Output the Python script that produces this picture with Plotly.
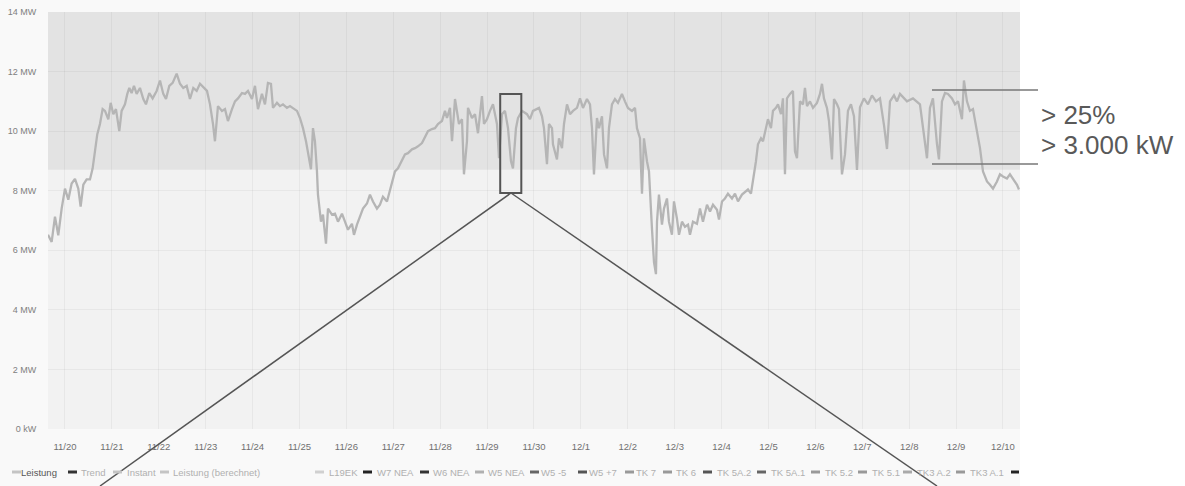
import pandas as pd
import plotly.graph_objects as go

# ---------------- data ----------------
# time position in days after 11/20 00:00, and power in MW
t_days = [
    -0.362, -0.284, -0.213, -0.143, -0.071, 0.000, 0.071, 0.142, 0.213, 0.284,
    0.334, 0.391, 0.462, 0.533, 0.590, 0.640, 0.689, 0.746, 0.803, 0.853,
    0.924, 0.974, 1.031, 1.087, 1.158, 1.208, 1.279, 1.329, 1.372, 1.421,
    1.471, 1.528, 1.599, 1.670, 1.727, 1.798, 1.869, 1.954, 2.026, 2.096,
    2.154, 2.224, 2.296, 2.381, 2.452, 2.522, 2.595, 2.665, 2.736, 2.808,
    2.878, 3.028, 3.092, 3.156, 3.198, 3.262, 3.348, 3.412, 3.475, 3.561,
    3.625, 3.689, 3.774, 3.838, 3.902, 3.987, 4.051, 4.115, 4.200, 4.264,
    4.328, 4.392, 4.435, 4.520, 4.584, 4.648, 4.733, 4.797, 4.861, 4.947,
    5.011, 5.075, 5.139, 5.181, 5.245, 5.288, 5.330, 5.373, 5.394, 5.458,
    5.501, 5.565, 5.608, 5.693, 5.757, 5.821, 5.906, 5.970, 6.034, 6.119,
    6.162, 6.226, 6.290, 6.354, 6.439, 6.503, 6.567, 6.652, 6.716, 6.780,
    6.866, 6.908, 6.972, 7.036, 7.100, 7.186, 7.249, 7.313, 7.399, 7.463,
    7.527, 7.612, 7.676, 7.740, 7.825, 7.889, 7.953, 8.038, 8.102, 8.145,
    8.209, 8.252, 8.316, 8.358, 8.401, 8.465, 8.507, 8.571, 8.593, 8.678,
    8.742, 8.806, 8.891, 8.934, 8.998, 9.062, 9.126, 9.211, 9.254, 9.318,
    9.382, 9.446, 9.510, 9.552, 9.616, 9.659, 9.744, 9.851, 9.915, 9.979,
    10.064, 10.107, 10.171, 10.213, 10.277, 10.320, 10.384, 10.405, 10.490, 10.533,
    10.597, 10.640, 10.704, 10.768, 10.832, 10.917, 10.981, 11.045, 11.130, 11.194,
    11.237, 11.279, 11.343, 11.386, 11.450, 11.493, 11.557, 11.599, 11.663, 11.727,
    11.791, 11.876, 11.940, 12.004, 12.090, 12.154, 12.196, 12.260, 12.303, 12.345,
    12.409, 12.452, 12.516, 12.559, 12.601, 12.623, 12.665, 12.729, 12.772, 12.836,
    12.878, 12.942, 12.985, 13.049, 13.092, 13.156, 13.220, 13.284, 13.326, 13.390,
    13.475, 13.539, 13.603, 13.689, 13.753, 13.817, 13.902, 13.945, 14.009, 14.072,
    14.136, 14.222, 14.286, 14.350, 14.435, 14.499, 14.563, 14.627, 14.670, 14.733,
    14.776, 14.840, 14.883, 14.947, 14.989, 15.053, 15.096, 15.160, 15.203, 15.267,
    15.309, 15.352, 15.394, 15.458, 15.522, 15.565, 15.608, 15.672, 15.736, 15.778,
    15.821, 15.885, 15.949, 16.034, 16.098, 16.141, 16.183, 16.247, 16.290, 16.354,
    16.397, 16.461, 16.503, 16.567, 16.631, 16.695, 16.759, 16.823, 16.887, 16.951,
    17.036, 17.122, 17.207, 17.292, 17.377, 17.463, 17.527, 17.591, 17.676, 17.740,
    17.804, 17.953, 18.081, 18.230, 18.337, 18.380, 18.443, 18.507, 18.593, 18.635,
    18.699, 18.763, 18.827, 18.913, 18.977, 19.041, 19.126, 19.168, 19.232, 19.296,
    19.360, 19.403, 19.446, 19.510, 19.574, 19.659, 19.723, 19.787, 19.872, 19.936,
    20.000, 20.085, 20.149, 20.213, 20.299, 20.341,
]
power_mw = [
    6.52, 6.28, 7.13, 6.50, 7.40, 8.07, 7.70, 8.24, 8.40, 8.07,
    7.47, 8.20, 8.38, 8.38, 8.75, 9.43, 9.90, 10.24, 10.74, 10.68,
    10.40, 10.95, 10.57, 10.74, 10.00, 10.68, 10.90, 11.25, 11.45, 11.28,
    11.52, 11.25, 11.45, 11.08, 10.90, 11.28, 11.10, 11.35, 11.70, 11.25,
    11.08, 11.52, 11.62, 11.93, 11.59, 11.45, 11.52, 11.08, 11.45, 11.35,
    11.59, 11.35, 10.90, 10.24, 9.66, 10.84, 10.68, 10.74, 10.34, 10.74,
    11.00, 11.10, 11.28, 11.25, 11.35, 11.08, 11.52, 10.74, 11.25, 10.90,
    11.62, 11.59, 10.78, 10.95, 10.84, 10.90, 10.78, 10.84, 10.78, 10.68,
    10.44, 10.10, 9.66, 9.32, 8.72, 10.10, 9.66, 8.65, 7.87, 6.96,
    7.20, 6.22, 7.40, 7.20, 7.23, 6.96, 7.23, 6.96, 6.69, 6.89,
    6.52, 6.86, 7.10, 7.40, 7.57, 7.87, 7.64, 7.40, 7.53, 7.80,
    7.64, 7.87, 8.31, 8.65, 8.75, 9.05, 9.22, 9.26, 9.39, 9.43,
    9.49, 9.60, 9.83, 10.00, 10.07, 10.10, 10.24, 10.34, 10.68, 10.44,
    10.78, 9.66, 11.08, 10.57, 10.24, 10.40, 8.55, 9.66, 10.78, 10.44,
    10.57, 9.93, 11.18, 10.24, 10.40, 10.68, 10.90, 10.24, 9.09, 10.57,
    10.68, 10.10, 8.99, 8.75, 10.10, 10.44, 10.68, 10.57, 10.40, 10.68,
    10.74, 10.78, 10.50, 10.10, 8.89, 10.24, 10.10, 9.56, 9.05, 9.76,
    9.43, 10.24, 10.90, 10.57, 10.68, 10.78, 11.10, 10.78, 11.08, 10.90,
    10.10, 8.55, 10.44, 10.10, 10.50, 9.22, 8.75, 10.10, 10.90, 11.08,
    10.95, 11.25, 11.00, 10.78, 10.68, 10.78, 10.10, 9.76, 7.90, 9.76,
    8.99, 8.65, 6.72, 5.60, 5.20, 6.96, 7.87, 6.86, 7.40, 7.74,
    6.96, 6.52, 7.64, 7.06, 6.52, 6.96, 6.79, 6.86, 6.52, 6.96,
    6.89, 7.40, 6.96, 7.53, 7.30, 7.53, 7.36, 7.03, 7.64, 7.74,
    7.90, 7.74, 7.90, 7.64, 7.87, 7.97, 8.04, 7.90, 8.31, 8.99,
    9.56, 9.76, 9.66, 10.10, 10.40, 10.10, 10.68, 10.78, 10.90, 10.57,
    11.10, 8.55, 11.10, 11.25, 11.35, 9.32, 9.09, 11.00, 10.90, 11.45,
    10.84, 11.00, 10.78, 10.95, 11.25, 11.59, 11.10, 10.78, 10.34, 9.05,
    11.08, 10.90, 10.74, 8.55, 9.22, 10.68, 10.90, 10.50, 8.70, 10.80,
    11.10, 10.90, 11.20, 11.00, 11.10, 10.20, 9.40, 11.00, 11.20, 11.00,
    11.25, 11.00, 11.10, 10.90, 9.56, 9.09, 10.78, 11.10, 9.56, 9.05,
    11.00, 11.28, 11.25, 11.10, 10.90, 11.00, 10.40, 11.70, 11.00, 10.68,
    10.74, 10.34, 10.00, 9.43, 8.65, 8.31, 8.20, 8.07, 8.31, 8.55,
    8.48, 8.41, 8.55, 8.41, 8.20, 8.04,
]

y_tick_values = [0, 2, 4, 6, 8, 10, 12, 14]
y_tick_labels = ["0 kW", "2 MW", "4 MW", "6 MW", "8 MW", "10 MW", "12 MW", "14 MW"]
day_labels = ["11/20", "11/21", "11/22", "11/23", "11/24", "11/25", "11/26", "11/27",
              "11/28", "11/29", "11/30", "12/1", "12/2", "12/3", "12/4", "12/5",
              "12/6", "12/7", "12/8", "12/9", "12/10"]

band_low_mw = 8.70          # lower edge of the shaded "> 25 %" band
marker_lines_mw = [11.38, 8.90]   # the two bracket lines at the right
zoom_box_days = [9.28, 9.73]
zoom_box_mw = [7.92, 11.25]

legend_left = ["Leistung", "Trend", "Instant", "Leistung (berechnet)"]
legend_right = ["L19EK", "W7 NEA", "W6 NEA", "W5 NEA", "W5 -5", "W5 +7", "TK 7", "TK 6",
                "TK 5A.2", "TK 5A.1", "TK 5.2", "TK 5.1", "TK3 A.2", "TK3 A.1"]

# ---------------- layout helpers ----------------
W, H = 1185, 486
L, R, T, B = 48, 165, 12, 57
PW, PH = W - L - R, H - T - B


def px(x):
    return (x - L) / PW


def py(y):
    return (H - B - y) / PH


FONT = "Liberation Sans, Arial, sans-serif"

base = pd.Timestamp("2023-11-20")
times = base + pd.to_timedelta(t_days, unit="D")
tick_dates = [base + pd.Timedelta(days=i) for i in range(len(day_labels))]
x_range = [base + pd.Timedelta(days=-0.362), base + pd.Timedelta(days=20.363)]

fig = go.Figure()
fig.add_trace(go.Scatter(x=times, y=power_mw, mode="lines",
                         line=dict(color="#b5b5b5", width=2.3), showlegend=False,
                         hoverinfo="skip"))

shapes = []
# container background
shapes.append(dict(type="rect", xref="paper", yref="paper", x0=px(0), x1=1.0,
                   y0=py(486), y1=py(0), fillcolor="#f9f9f9", line_width=0, layer="below"))
# plot area background
shapes.append(dict(type="rect", xref="paper", yref="paper", x0=0, x1=1, y0=0, y1=1,
                   fillcolor="#f2f2f2", line_width=0, layer="below"))
# shaded band
shapes.append(dict(type="rect", xref="paper", yref="y", x0=0, x1=1, y0=band_low_mw, y1=14,
                   fillcolor="#e3e3e3", line_width=0, layer="below"))
# bracket lines at right
for v in marker_lines_mw:
    shapes.append(dict(type="line", xref="paper", yref="y", x0=px(932), x1=px(1038),
                       y0=v, y1=v, line=dict(color="#777777", width=1.5), layer="above"))
# zoom box
shapes.append(dict(type="rect", xref="x", yref="y",
                   x0=base + pd.Timedelta(days=zoom_box_days[0]),
                   x1=base + pd.Timedelta(days=zoom_box_days[1]),
                   y0=zoom_box_mw[0], y1=zoom_box_mw[1],
                   line=dict(color="#555555", width=2), layer="above"))
# zoom lines down to the lower edge
for xe in (100, 937):
    shapes.append(dict(type="line", xref="paper", yref="paper", x0=px(511), y0=py(193),
                       x1=px(xe), y1=py(486), line=dict(color="#555555", width=1.5),
                       layer="above"))

annotations = []
annotations.append(dict(text="&gt; 25%", xref="paper", yref="paper", x=px(1039), y=py(115),
                        xanchor="left", yanchor="middle", showarrow=False,
                        font=dict(family="Liberation Sans, Arial", size=26, color="#595959")))
annotations.append(dict(text="&gt; 3.000 kW", xref="paper", yref="paper", x=px(1039), y=py(145),
                        xanchor="left", yanchor="middle", showarrow=False,
                        font=dict(family="Liberation Sans, Arial", size=26, color="#595959")))

# legend (drawn as text + short line markers)
left_pos = [(12, 20), (68, 80), (113, 126), (160, 172)]
left_marker_col = ["#c4c4c4", "#333333", "#c4c4c4", "#c4c4c4"]
right_pos = [(315, 328), (363, 376), (420, 432), (475, 487), (530, 540), (578, 588),
             (625, 635), (663, 675), (703, 716), (757, 770), (811, 824), (858, 871),
             (903, 916), (956, 969)]
right_marker_col = ["#d0d0d0", "#222222", "#333333", "#b0b0b0", "#666666", "#555555",
                    "#999999", "#999999", "#555555", "#666666", "#999999", "#999999",
                    "#aaaaaa", "#999999"]
LEG_Y = 472
for i, name in enumerate(legend_left):
    mx, tx = left_pos[i]
    shapes.append(dict(type="line", xref="paper", yref="paper", x0=px(mx), x1=px(mx + 9),
                       y0=py(LEG_Y), y1=py(LEG_Y),
                       line=dict(color=left_marker_col[i], width=3), layer="above"))
    annotations.append(dict(text=name, xref="paper", yref="paper", x=px(tx), y=py(LEG_Y),
                            xanchor="left", yanchor="middle", showarrow=False, borderpad=0,
                            font=dict(family=FONT, size=9.5,
                                      color="#555555" if i == 0 else "#b0b0b0")))
for i, name in enumerate(legend_right):
    mx, tx = right_pos[i]
    shapes.append(dict(type="line", xref="paper", yref="paper", x0=px(mx), x1=px(mx + 9),
                       y0=py(LEG_Y), y1=py(LEG_Y),
                       line=dict(color=right_marker_col[i], width=3), layer="above"))
    annotations.append(dict(text=name, xref="paper", yref="paper", x=px(tx), y=py(LEG_Y),
                            xanchor="left", yanchor="middle", showarrow=False, borderpad=0,
                            font=dict(family=FONT, size=9.5, color="#b0b0b0")))
shapes.append(dict(type="line", xref="paper", yref="paper", x0=px(1011), x1=px(1019),
                   y0=py(LEG_Y), y1=py(LEG_Y), line=dict(color="#222222", width=3),
                   layer="above"))

fig.update_layout(
    width=W, height=H,
    margin=dict(l=L, r=R, t=T, b=B, pad=0, autoexpand=False),
    paper_bgcolor="#ffffff",
    plot_bgcolor="rgba(0,0,0,0)",
    showlegend=False,
    shapes=shapes,
    annotations=annotations,
    xaxis=dict(range=x_range, tickvals=tick_dates, ticktext=day_labels,
               showgrid=True, gridcolor="rgba(0,0,0,0.045)", gridwidth=1,
               zeroline=False, showline=False, ticks="outside", ticklen=9,
               tickcolor="rgba(0,0,0,0)", automargin=False,
               tickfont=dict(family=FONT, size=9.5, color="#707070")),
    yaxis=dict(range=[0, 14], tickvals=y_tick_values, ticktext=y_tick_labels,
               showgrid=True, gridcolor="rgba(0,0,0,0.045)", gridwidth=1,
               zeroline=False, showline=False, ticks="outside", ticklen=9,
               tickcolor="rgba(0,0,0,0)", automargin=False,
               tickfont=dict(family=FONT, size=9, color="#808080")),
)

fig.write_html("out.html", config={"displayModeBar": False},
               post_script="document.body.style.margin='0';document.body.style.overflow='hidden';")
